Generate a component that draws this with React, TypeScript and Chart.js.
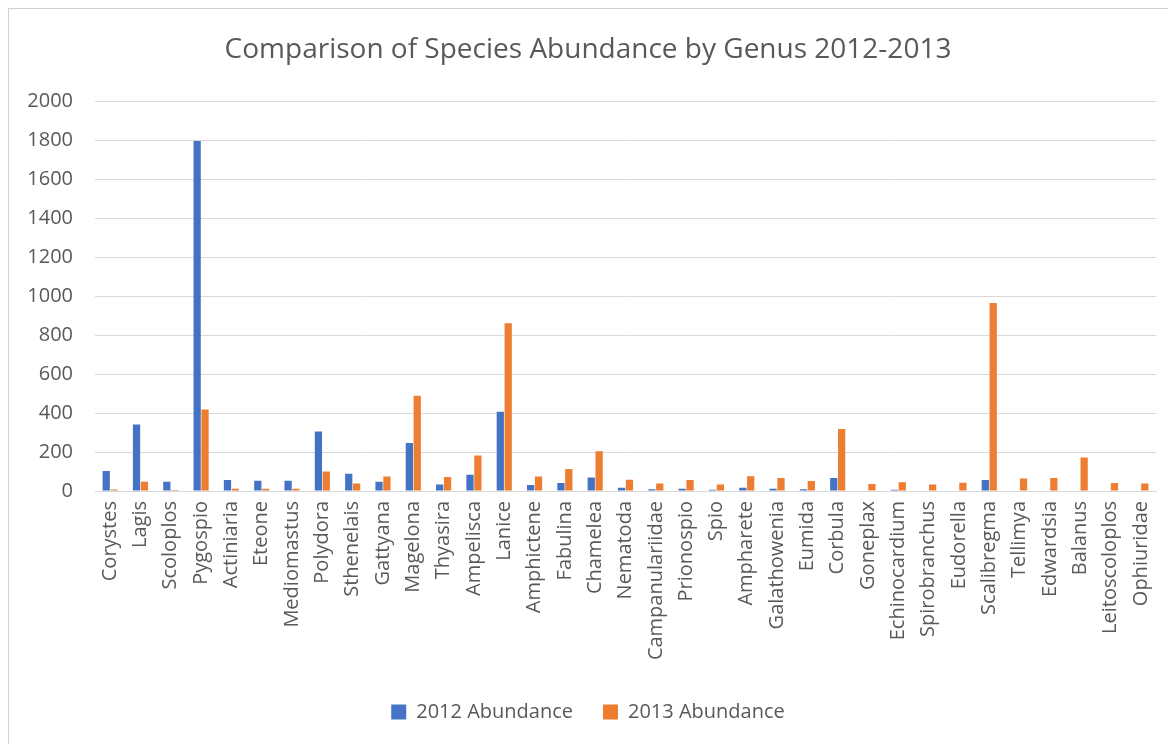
import React, { useEffect, useRef } from "react";
import { Chart, registerables } from "chart.js";

Chart.register(...registerables);

const TITLE = "Comparison of Species Abundance by Genus 2012-2013";

const categories = [
  "Corystes", "Lagis", "Scoloplos", "Pygospio", "Actiniaria", "Eteone", "Mediomastus",
  "Polydora", "Sthenelais", "Gattyana", "Magelona", "Thyasira", "Ampelisca", "Lanice",
  "Amphictene", "Fabulina", "Chamelea", "Nematoda", "Campanulariidae", "Prionospio",
  "Spio", "Ampharete", "Galathowenia", "Eumida", "Corbula", "Goneplax", "Echinocardium",
  "Spirobranchus", "Eudorella", "Scalibregma", "Tellimya", "Edwardsia", "Balanus",
  "Leitoscoloplos", "Ophiuridae",
];

const abundance2012 = [
  103, 342, 48, 1797, 57, 53, 53,
  306, 88, 48, 247, 33, 84, 407,
  31, 41, 69, 17, 9, 12,
  7, 17, 12, 9, 67, 3, 7,
  2, 2, 57, 2, 2, 0,
  0, 0,
];

const abundance2013 = [
  8, 48, 5, 419, 12, 12, 12,
  100, 38, 74, 489, 72, 182, 862,
  74, 113, 204, 58, 38, 57,
  34, 76, 67, 52, 318, 36, 45,
  34, 43, 965, 64, 67, 172,
  41, 38,
];

const seriesNames = ["2012 Abundance", "2013 Abundance"];
const seriesColors = ["#4472C4", "#ED7D31"];

export default function App() {
  const canvasRef = useRef<HTMLCanvasElement | null>(null);

  useEffect(() => {
    if (!canvasRef.current) return;
    const font = "'Open Sans', 'Noto Sans', sans-serif";
    const chart = new Chart(canvasRef.current, {
      type: "bar",
      data: {
        labels: categories,
        datasets: [
          {
            label: seriesNames[0],
            data: abundance2012,
            backgroundColor: seriesColors[0],
            categoryPercentage: 0.52,
            barPercentage: 0.92,
          },
          {
            label: seriesNames[1],
            data: abundance2013,
            backgroundColor: seriesColors[1],
            categoryPercentage: 0.52,
            barPercentage: 0.92,
          },
        ],
      },
      options: {
        animation: false,
        responsive: false,
        maintainAspectRatio: false,
        layout: { padding: { left: 20, right: 20, top: 0, bottom: 12 } },
        plugins: {
          title: {
            display: true,
            text: TITLE,
            color: "#595959",
            font: { family: font, size: 28, weight: "normal" },
            padding: { top: 33, bottom: 35 },
          },
          legend: {
            position: "bottom",
            labels: {
              boxWidth: 15,
              boxHeight: 15,
              padding: 30,
              color: "#595959",
              font: { family: font, size: 20 },
            },
          },
          tooltip: { enabled: false },
        },
        scales: {
          x: {
            grid: { display: false, drawTicks: false },
            border: { display: true, color: "#d9d9d9" },
            ticks: {
              color: "#595959",
              font: { family: font, size: 20 },
              maxRotation: 90,
              minRotation: 90,
              autoSkip: false,
              padding: 10,
            },
            afterFit: (scale: any) => {
              scale.height = 181;
            },
          },
          y: {
            min: 0,
            max: 2000,
            grid: { color: "#d9d9d9", drawTicks: false },
            border: { display: false },
            ticks: {
              stepSize: 200,
              color: "#595959",
              font: { family: font, size: 20 },
              padding: 22,
              callback: (v: any) => String(v),
            },
            afterFit: (scale: any) => {
              scale.width = 75;
            },
          },
        },
      },
    });
    return () => chart.destroy();
  }, []);

  return (
    <div style={{ position: "relative", width: 1168, height: 736 }}>
      <canvas
        ref={canvasRef}
        width={1176}
        height={744}
        style={{ position: "absolute", left: -8, top: -8, width: 1176, height: 744 }}
      />
      <div
        style={{
          position: "absolute",
          left: 0,
          top: 0,
          width: 1168,
          height: 736,
          boxSizing: "border-box",
          borderTop: "1px solid #d0d0d0",
          borderLeft: "1px solid #d0d0d0",
          pointerEvents: "none",
        }}
      />
    </div>
  );
}
